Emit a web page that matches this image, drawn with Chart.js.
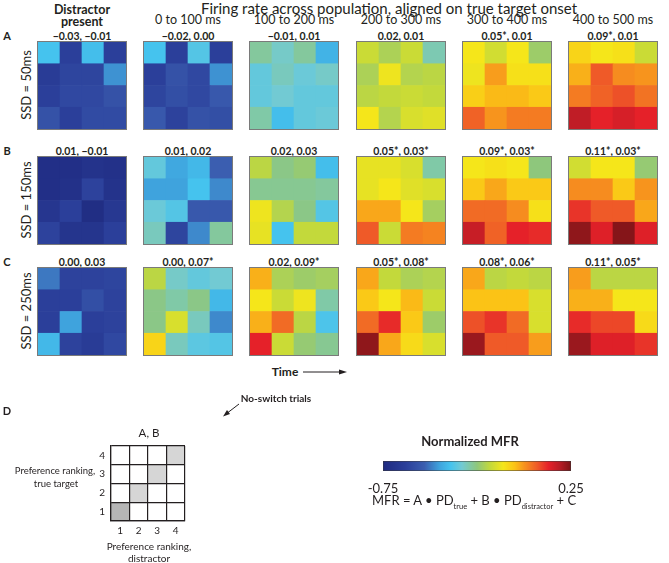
<!DOCTYPE html>
<html>
<head>
<meta charset="utf-8">
<script src="https://cdn.jsdelivr.net/npm/chart.js@4.4.0/dist/chart.umd.min.js"></script>
<style>
  body { margin: 0; width: 669px; height: 563px; position: relative; background: #fff; overflow: hidden;
         font-family: Lato, "Open Sans", sans-serif; color: #231f20; }
  .t { position: absolute; white-space: nowrap; line-height: 1; }
  .hm { position: absolute; width: 90px; height: 89px; border: 1px solid #7a7a7a; box-sizing: border-box; }
  .hm canvas { display: block; }
  sub { font-size: 7.5px; }
</style>
</head>
<body>
<script>
// column headers, row labels and fitted coefficients (A, B) printed over each map
const periods = ["Distractor present", "0 to 100 ms", "100 to 200 ms", "200 to 300 ms", "300 to 400 ms", "400 to 500 ms"];
const ssdLabels = ["SSD = 50ms", "SSD = 150ms", "SSD = 250ms"];
const panelLetters = ["A", "B", "C"];
const coefsA = ["\u22120.03,  \u22120.01", "\u22120.02, 0.00", "\u22120.01, 0.01", "0.02, 0.01", "0.05*, 0.01", "0.09*, 0.01"];
const coefsB = ["0.01, \u22120.01", "0.01, 0.02", "0.02, 0.03", "0.05*, 0.03*", "0.09*, 0.03*", "0.11*, 0.03*"];
const coefsC = ["0.00, 0.03", "0.00, 0.07*", "0.02,  0.09*", "0.05*, 0.08*", "0.08*, 0.06*", "0.11*,  0.05*"];

// normalized MFR per cell, rows listed top (rank 4) to bottom (rank 1), columns distractor rank 1..4
const mfrA = [
  [[-.39,-.63,-.40,-.63],[-.65,-.61,-.61,-.47],[-.63,-.60,-.60,-.57],[-.57,-.63,-.59,-.59]],
  [[-.39,-.63,-.37,-.63],[-.63,-.57,-.60,-.47],[-.61,-.58,-.60,-.55],[-.55,-.62,-.57,-.58]],
  [[-.28,-.32,-.28,-.42],[-.35,-.31,-.34,-.32],[-.35,-.33,-.35,-.35],[-.29,-.40,-.35,-.34]],
  [[-.17,-.21,-.17,-.30],[-.21,-.12,-.20,-.19],[-.19,-.18,-.17,-.18],[-.11,-.20,-.15,-.14]],
  [[-.11,-.16,-.11,-.23],[-.12,-.01,-.10,-.10],[-.07,-.04,-.04,-.06],[.06,.00,.03,.03]],
  [[-.08,-.11,-.10,-.17],[-.03,.07,.01,.00],[.03,.06,.08,.04],[.18,.13,.15,.13]]
];
const mfrB = [
  [[-.72,-.72,-.70,-.71],[-.72,-.71,-.62,-.70],[-.68,-.63,-.73,-.67],[-.62,-.69,-.69,-.63]],
  [[-.35,-.44,-.41,-.53],[-.45,-.45,-.39,-.48],[-.34,-.37,-.55,-.55],[-.31,-.61,-.48,-.28]],
  [[-.19,-.26,-.24,-.40],[-.27,-.27,-.27,-.28],[-.12,-.20,-.26,-.37],[-.13,-.39,-.18,-.18]],
  [[-.13,-.13,-.15,-.29],[-.13,-.11,-.14,-.15],[-.02,-.02,-.11,-.22],[.07,-.17,.03,.02]],
  [[-.11,-.10,-.11,-.25],[-.06,-.02,-.06,-.06],[.05,.05,.01,-.10],[.17,.06,.13,.12]],
  [[-.16,-.11,-.11,-.24],[.01,.01,-.06,.00],[.11,.07,.07,-.02],[.23,.14,.24,.14]]
];
const mfrC = [
  [[-.50,-.62,-.62,-.61],[-.63,-.63,-.58,-.62],[-.63,-.45,-.63,-.62],[-.41,-.62,-.65,-.60]],
  [[-.19,-.32,-.35,-.33],[-.26,-.29,-.26,-.41],[-.26,-.15,-.31,-.48],[-.08,-.31,-.36,-.37]],
  [[-.03,-.21,-.23,-.22],[-.11,-.17,-.12,-.29],[-.03,.05,-.19,-.38],[.13,-.17,-.24,-.27]],
  [[-.02,-.18,-.21,-.20],[-.06,-.11,-.04,-.17],[.05,.12,-.06,-.23],[.23,-.02,-.09,-.15]],
  [[-.02,-.19,-.18,-.19],[-.05,-.05,-.05,-.15],[.08,.11,.05,-.15],[.22,.07,.07,-.01]],
  [[-.01,-.19,-.19,-.19],[-.03,-.03,-.11,-.11],[.12,.09,.09,-.09],[.22,.14,.14,.11]]
];

// panel D
const rankTicks = ["1", "2", "3", "4"];
const noSwitch = [[0,0,0,1],[0,0,1,0],[0,1,0,0],[2,0,0,0]]; // top row first
const cbarTicks = [-0.75, 0.25];

const MFR_MIN = -0.75, MFR_MAX = 0.25;
const jetStops = [
  [0.00, "#1f2a80"], [0.12, "#2b3f9a"], [0.22, "#3b5eb0"], [0.30, "#3fa3dd"], [0.36, "#45c3ee"],
  [0.42, "#72cad3"], [0.50, "#8ec77c"], [0.57, "#c3d93b"], [0.64, "#f5e61a"], [0.70, "#fbc316"],
  [0.75, "#f7941d"], [0.82, "#ef5a28"], [0.88, "#e52129"], [0.94, "#b81c25"], [1.00, "#7b1416"]
];

function hex(c) { return [1, 3, 5].map(i => parseInt(c.substr(i, 2), 16)); }

function mfrColor(v) {
  let t = Math.min(1, Math.max(0, (v - MFR_MIN) / (MFR_MAX - MFR_MIN)));
  for (let i = 1; i < jetStops.length; i++) {
    if (t <= jetStops[i][0]) {
      let [t0, c0] = jetStops[i - 1], [t1, c1] = jetStops[i];
      let f = (t - t0) / (t1 - t0), a = hex(c0), b = hex(c1);
      return "rgb(" + a.map((x, k) => Math.round(x + (b[k] - x) * f)).join(",") + ")";
    }
  }
  return jetStops[jetStops.length - 1][1];
}

function text(str, x, y, css) {
  let d = document.createElement("div");
  d.className = "t";
  d.innerHTML = str;
  d.style.left = x + "px";
  d.style.top = y + "px";
  Object.assign(d.style, css || {});
  document.body.appendChild(d);
  return d;
}

function centered(str, cx, cy, css) {
  return text(str, cx, cy, Object.assign({ transform: "translate(-50%,-50%)" }, css || {}));
}

// no automatic label padding, so the plot area is exactly what is asked for
function noPad(s) { s.paddingTop = 0; s.paddingBottom = 0; s.paddingLeft = 0; s.paddingRight = 0; }

function heatmap(grid, left, top) {
  let box = document.createElement("div");
  box.className = "hm";
  box.style.left = left + "px";
  box.style.top = top + "px";
  let c = document.createElement("canvas");
  c.width = 88; c.height = 87;
  box.appendChild(c);
  document.body.appendChild(box);
  let rows = grid.slice().reverse(); // stacking starts at the bottom row
  new Chart(c, {
    type: "bar",
    data: {
      labels: rankTicks,
      datasets: rows.map(r => ({
        data: r.map(() => 1),
        backgroundColor: r.map(mfrColor),
        borderWidth: 0,
        barPercentage: 1,
        categoryPercentage: 1
      }))
    },
    options: {
      responsive: false,
      animation: false,
      events: [],
      layout: { padding: 0, autoPadding: false },
      plugins: { legend: { display: false }, tooltip: { enabled: false } },
      scales: {
        x: { display: false, stacked: true },
        y: { display: false, stacked: true, min: 0, max: 4 }
      }
    }
  });
}

// ---- panels A-C ----
const colX = [82, 188, 294, 401, 507, 613];
const rowTop = [41, 156, 267];
const maps = [mfrA, mfrB, mfrC];
const coefs = [coefsA, coefsB, coefsC];

centered("Firing rate across population, aligned on true target onset", 389, 8, { fontSize: "15px" });
centered("Distractor", colX[0], 10, { fontSize: "12.5px", fontWeight: "bold" });
centered("present", colX[0], 22, { fontSize: "12.5px", fontWeight: "bold" });
for (let j = 1; j < periods.length; j++) centered(periods[j], colX[j], 20, { fontSize: "12.5px" });

for (let i = 0; i < 3; i++) {
  centered(panelLetters[i], 7, rowTop[i] - 6, { fontSize: "11px", fontWeight: "bold" });
  centered(ssdLabels[i], 26, rowTop[i] + 44, { fontSize: "13px", transform: "translate(-50%,-50%) rotate(-90deg)" });
  for (let j = 0; j < 6; j++) {
    centered(coefs[i][j], colX[j], rowTop[i] - 5.5, { fontSize: "10.5px", fontWeight: "bold" });
    heatmap(maps[i][j], colX[j] - 45, rowTop[i]);
  }
}

// time arrow
centered("Time", 285, 372, { fontSize: "12px", fontWeight: "bold" });
document.body.insertAdjacentHTML("beforeend",
  '<svg style="position:absolute;left:0;top:0" width="669" height="563">' +
  '<line x1="303" y1="372" x2="343" y2="372" stroke="#231f20" stroke-width="1"/>' +
  '<polygon points="347,372 339,369.5 339,374.5" fill="#231f20"/>' +
  '<line x1="239" y1="404" x2="226" y2="414" stroke="#231f20" stroke-width="1"/>' +
  '<polygon points="223,416.5 227,410 230,414" fill="#231f20"/>' +
  '</svg>');

// ---- panel D ----
centered("D", 7, 410, { fontSize: "11px", fontWeight: "bold" });
centered("A, B", 149, 433, { fontSize: "11.5px" });
centered("No-switch trials", 276, 398, { fontSize: "10px", fontWeight: "bold" });
centered("Preference ranking,", 55, 471, { fontSize: "9.5px" });
centered("true target", 56, 484, { fontSize: "9.5px" });
centered("Preference ranking,", 149, 546, { fontSize: "10px" });
centered("distractor", 149, 558, { fontSize: "10px" });

const shade = ["#ffffff", "#d6d6d6", "#b5b5b5"];
let dc = document.createElement("canvas");
dc.width = 92; dc.height = 92;
Object.assign(dc.style, { position: "absolute", left: "94px", top: "445px" });
document.body.appendChild(dc);
let dRows = noSwitch.slice().reverse();
new Chart(dc, {
  type: "bar",
  data: {
    labels: rankTicks,
    datasets: dRows.map(r => ({
      data: r.map(() => 1),
      backgroundColor: r.map(s => shade[s]),
      borderWidth: 0,
      inflateAmount: 0,
      barPercentage: 1,
      categoryPercentage: 1
    }))
  },
  options: {
    responsive: false,
    animation: false,
    events: [],
    layout: { padding: { top: 1, right: 1, left: 0, bottom: 0 }, autoPadding: false },
    plugins: { legend: { display: false }, tooltip: { enabled: false } },
    scales: {
      x: {
        stacked: true,
        afterFit: s => { s.height = 16; noPad(s); },
        grid: { color: "#231f20", lineWidth: 1.2, drawTicks: false, z: 1 },
        border: { color: "#231f20", width: 1.2, z: 1 },
        ticks: { color: "#231f20", font: { family: "Lato", size: 10 }, padding: 4 }
      },
      y: {
        stacked: true, min: 0, max: 4,
        afterFit: s => { s.width = 17; noPad(s); },
        afterBuildTicks: s => { s.ticks = [0, 0.5, 1, 1.5, 2, 2.5, 3, 3.5, 4].map(v => ({ value: v })); },
        grid: {
          color: ctx => (ctx.tick && ctx.tick.value % 1 === 0 ? "#231f20" : "rgba(0,0,0,0)"),
          lineWidth: 1.2, drawTicks: false, z: 1
        },
        border: { color: "#231f20", width: 1.2, z: 1 },
        ticks: {
          color: "#231f20", font: { family: "Lato", size: 10 }, padding: 6, autoSkip: false,
          callback: v => (v % 1 === 0.5 ? rankTicks[Math.floor(v)] : "")
        }
      }
    }
  }
});

// ---- colour bar ----
centered("Normalized MFR", 470, 441, { fontSize: "13px", fontWeight: "bold" });
let cc = document.createElement("canvas");
cc.width = 250; cc.height = 36;
Object.assign(cc.style, { position: "absolute", left: "352px", top: "461px" });
document.body.appendChild(cc);
new Chart(cc, {
  type: "bar",
  data: {
    labels: ["MFR"],
    datasets: [{
      data: [[MFR_MIN, MFR_MAX]],
      backgroundColor: ctx => {
        let a = ctx.chart.chartArea;
        if (!a) return "#888";
        let g = ctx.chart.ctx.createLinearGradient(a.left, 0, a.right, 0);
        jetStops.forEach(([t, c]) => g.addColorStop(t, c));
        return g;
      },
      borderColor: "#3a3a3a",
      borderWidth: 0.8,
      borderSkipped: false,
      barPercentage: 1,
      categoryPercentage: 1
    }]
  },
  options: {
    indexAxis: "y",
    responsive: false,
    animation: false,
    events: [],
    layout: { padding: { left: 31, right: 31, top: 0, bottom: 0 }, autoPadding: false },
    plugins: { legend: { display: false }, tooltip: { enabled: false } },
    scales: {
      y: { display: false },
      x: {
        min: MFR_MIN, max: MFR_MAX,
        afterFit: s => { s.height = 26; noPad(s); },
        afterBuildTicks: s => { s.ticks = cbarTicks.map(v => ({ value: v })); },
        grid: { display: false },
        border: { display: false },
        ticks: {
          color: "#231f20", font: { family: "Lato", size: 13 }, padding: 2, maxRotation: 0, autoSkip: false,
          callback: v => Number(v).toFixed(2)
        }
      }
    }
  }
});

text("MFR = A \u2022 PD<sub>true</sub> + B \u2022 PD<sub>distractor</sub> + C", 372, 494, { fontSize: "13px" });
</script>
</body>
</html>
